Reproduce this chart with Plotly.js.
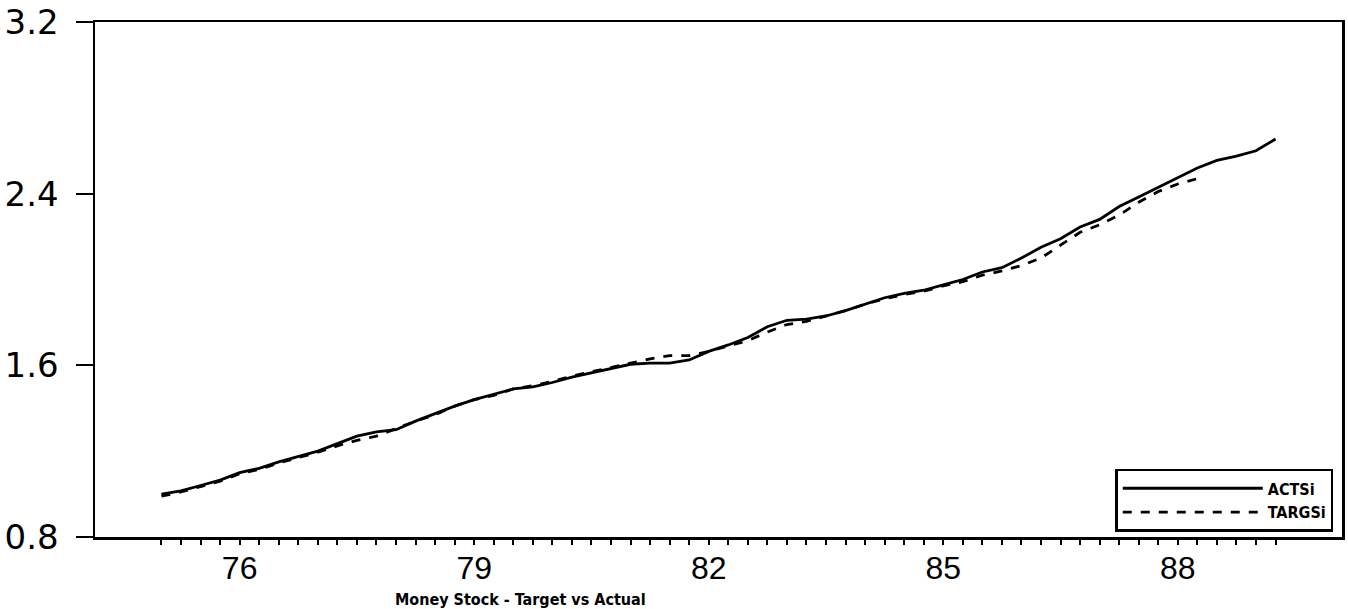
<!DOCTYPE html>
<html>
<head>
<meta charset="utf-8">
<script src="https://cdn.plot.ly/plotly-3.0.1.min.js"></script>
<style>html,body{margin:0;padding:0;background:#fff;}#chart{width:1348px;height:609px;}</style>
</head>
<body>
<div id="chart"></div>
<script>
// Quarterly dates (year, two digits + fraction)
const actsYears = [75.00,75.25,75.50,75.75,76.00,76.25,76.50,76.75,77.00,77.25,77.50,77.75,78.00,78.25,78.50,78.75,79.00,79.25,79.50,79.75,80.00,80.25,80.50,80.75,81.00,81.25,81.50,81.75,82.00,82.25,82.50,82.75,83.00,83.25,83.50,83.75,84.00,84.25,84.50,84.75,85.00,85.25,85.50,85.75,86.00,86.25,86.50,86.75,87.00,87.25,87.50,87.75,88.00,88.25,88.50,88.75,89.00,89.25];
const actsValues = [1.000,1.015,1.040,1.065,1.100,1.120,1.150,1.175,1.200,1.235,1.270,1.290,1.300,1.340,1.375,1.410,1.440,1.465,1.490,1.500,1.520,1.545,1.565,1.585,1.605,1.610,1.610,1.625,1.665,1.695,1.730,1.780,1.810,1.815,1.830,1.855,1.885,1.915,1.935,1.950,1.975,2.000,2.035,2.055,2.100,2.150,2.190,2.245,2.280,2.340,2.385,2.430,2.475,2.520,2.555,2.575,2.600,2.655];

const targsYears = [75.00,75.25,75.50,75.75,76.00,76.25,76.50,76.75,77.00,77.25,77.50,77.75,78.00,78.25,78.50,78.75,79.00,79.25,79.50,79.75,80.00,80.25,80.50,80.75,81.00,81.25,81.50,81.75,82.00,82.25,82.50,82.75,83.00,83.25,83.50,83.75,84.00,84.25,84.50,84.75,85.00,85.25,85.50,85.75,86.00,86.25,86.50,86.75,87.00,87.25,87.50,87.75,88.00,88.25];
const targsValues = [0.990,1.010,1.035,1.060,1.095,1.115,1.145,1.170,1.195,1.225,1.250,1.270,1.305,1.340,1.370,1.410,1.440,1.460,1.490,1.505,1.525,1.550,1.570,1.590,1.610,1.630,1.645,1.645,1.665,1.690,1.715,1.755,1.790,1.805,1.830,1.855,1.885,1.910,1.930,1.945,1.970,1.990,2.020,2.040,2.065,2.100,2.160,2.220,2.255,2.300,2.360,2.410,2.445,2.470];

const seriesNames = ["ACTSi", "TARGSi"];
const xLabelYears = [76, 79, 82, 85, 88];
const yTickValues = [0.8, 1.6, 2.4, 3.2];
const chartTitle = "Money Stock - Target vs Actual";

// quarterly tick marks over the data span, labels only at labelled years
const xTickVals = actsYears.slice();
const xTickText = xTickVals.map(v => xLabelYears.includes(v) ? String(v) : "");

const traces = [
  {x: actsYears, y: actsValues, name: seriesNames[0], type: "scatter", mode: "lines",
   line: {color: "#000", width: 2.8, dash: "solid"}},
  {x: targsYears, y: targsValues, name: seriesNames[1], type: "scatter", mode: "lines",
   line: {color: "#000", width: 2.8, dash: "dash"}}
];

const layout = {
  width: 1348, height: 609,
  margin: {l: 95, r: 6, t: 22, b: 72, pad: 0},
  paper_bgcolor: "#fff", plot_bgcolor: "#fff",
  font: {family: "Liberation Sans, Arial, sans-serif", color: "#000"},
  title: {text: chartTitle, xref: "container", yref: "container", x: 0.386, y: 0.016,
          xanchor: "center", yanchor: "middle",
          font: {family: "DejaVu Sans Condensed, DejaVu Sans, sans-serif", size: 16, weight: "bold", color: "#000"}},
  xaxis: {
    range: [74.15, 90.1], showgrid: false, zeroline: false,
    showline: true, linecolor: "#000", linewidth: 2.5, mirror: true,
    tickmode: "array", tickvals: xTickVals, ticktext: xTickText,
    ticks: "outside", ticklen: 5, tickwidth: 2, tickcolor: "#000",
    ticklabelstandoff: -4,
    tickfont: {family: "Liberation Sans Narrow, Liberation Sans, sans-serif", size: 32, color: "#000"}
  },
  yaxis: {
    range: [0.8, 3.2], showgrid: false, zeroline: false,
    showline: true, linecolor: "#000", linewidth: 2.5, mirror: true,
    tickmode: "array", tickvals: yTickValues, ticktext: yTickValues.map(v => v.toFixed(1)),
    ticks: "outside", ticklen: 17, tickwidth: 2, tickcolor: "#000",
    ticklabelstandoff: 10,
    tickfont: {family: "DejaVu Sans, sans-serif", size: 34, color: "#000"}
  },
  showlegend: true,
  legend: {x: 0.993, y: 0.01, xanchor: "right", yanchor: "bottom",
           bgcolor: "#fff", bordercolor: "#000", borderwidth: 2.5,
           itemwidth: 140, tracegroupgap: 0,
           font: {family: "DejaVu Sans Condensed, DejaVu Sans, sans-serif", size: 16, weight: "bold", color: "#000"}}
};

Plotly.newPlot("chart", traces, layout, {displayModeBar: false, staticPlot: true});
</script>
</body>
</html>
